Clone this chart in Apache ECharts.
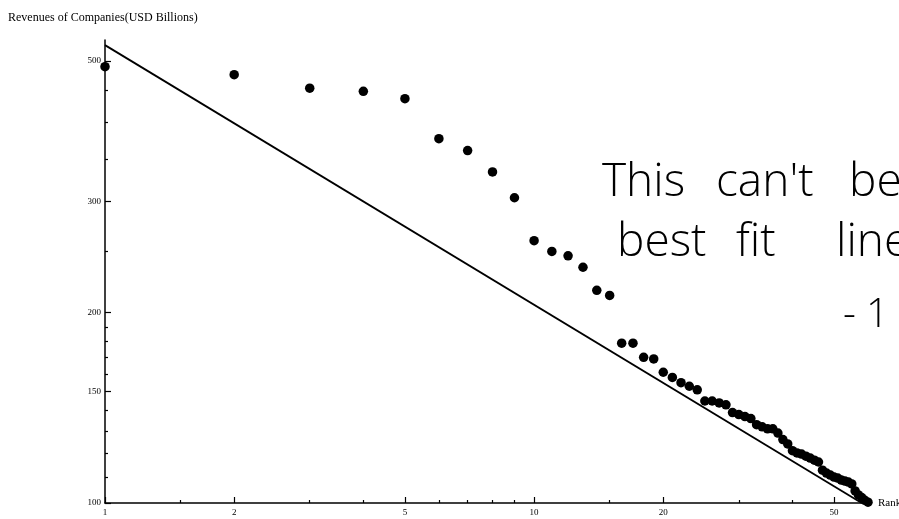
<!DOCTYPE html>
<html>
<head>
<meta charset="utf-8">
<script src="https://cdn.jsdelivr.net/npm/echarts@6.0.0/dist/echarts.min.js"></script>
<style>
  html, body { margin: 0; padding: 0; background: #ffffff; }
  #chart { width: 899px; height: 519px; }
</style>
</head>
<body>
<div id="chart"></div>
<script>
// Company revenues (USD billions) against their rank
const ranks = [
  1, 2, 3, 4, 5, 6, 7, 8, 9, 10,
  11, 12, 13, 14, 15, 16, 17, 18, 19, 20,
  21, 22, 23, 24, 25, 26, 27, 28, 29, 30,
  31, 32, 33, 34, 35, 36, 37, 38, 39, 40,
  41, 42, 43, 44, 45, 46, 47, 48, 49, 50,
  51, 52, 53, 54, 55, 56, 57, 58, 59, 60
];
const revenues = [
  490, 476, 453, 448, 436, 377, 361, 334, 304, 260,
  250, 246, 236, 217, 213, 179, 179, 170, 169, 161,
  158, 155, 153, 151, 145, 145, 144, 143, 139, 138,
  137, 136, 133, 132, 131, 131, 129, 126, 124, 121,
  120, 119.5, 118.6, 117.8, 116.9, 116.1, 112.7, 111.5, 110.7, 109.9,
  109.5, 108.7, 108.3, 107.9, 107.2, 104.5, 103, 102, 101, 100.3
];

// Straight line on the log-log plane, given by its two end points
const fitRanks = [1, 58];
const fitRevenues = [530, 100];

// Tick positions
const xMajorTicks = [1, 2, 5, 10, 20, 50];
const xMinorTicks = [1.5, 3, 4, 6, 7, 8, 9, 15, 30, 40];
const yMajorTicks = [100, 150, 200, 300, 500];
const yMinorTicks = [110, 120, 130, 140, 160, 170, 180, 190, 250, 350, 400, 450];

const serif = '"Liberation Serif", "DejaVu Serif", serif';
const hand = '"Open Sans", "Noto Sans", sans-serif';
const ink = '#000000';

const chart = echarts.init(document.getElementById('chart'), null, { renderer: 'canvas' });

function logAxis(min, max, ticks, major, extra) {
  return Object.assign({
    type: 'log',
    logBase: 10,
    min: min,
    max: max,
    axisLine: { show: major, onZero: false, lineStyle: { color: ink, width: 1.5 } },
    axisTick: {
      show: true,
      inside: true,
      length: major ? 6 : 3,
      customValues: ticks,
      lineStyle: { color: ink, width: 1.2 }
    },
    axisLabel: { show: false },
    splitLine: { show: false },
    minorTick: { show: false },
    minorSplitLine: { show: false }
  }, extra || {});
}

const option = {
  backgroundColor: '#ffffff',
  animation: false,
  title: {
    text: 'Revenues of Companies(USD Billions)',
    left: 3,
    top: 7,
    textStyle: { fontFamily: serif, fontSize: 12, fontWeight: 'normal', color: ink }
  },
  grid: { left: 105, right: 31, top: 40, bottom: 16, containLabel: false, outerBoundsMode: 'none' },
  xAxis: [
    logAxis(1, 60, xMajorTicks, true, {
      position: 'bottom',
      name: 'Rank',
      nameLocation: 'end',
      nameGap: 10,
      nameTextStyle: { fontFamily: serif, fontSize: 11, color: ink },
      axisLabel: {
        show: true, customValues: xMajorTicks, fontFamily: serif,
        fontSize: 9, color: ink, margin: 5
      }
    }),
    logAxis(1, 60, xMinorTicks, false, { position: 'bottom' })
  ],
  yAxis: [
    logAxis(100, 540, yMajorTicks, true, {
      position: 'left',
      axisLabel: {
        show: true, customValues: yMajorTicks, fontFamily: serif,
        fontSize: 9, color: ink, margin: 4
      }
    }),
    logAxis(100, 540, yMinorTicks, false, { position: 'left' })
  ],
  series: [
    {
      type: 'line',
      xAxisIndex: 0,
      yAxisIndex: 0,
      data: fitRanks.map((r, i) => [r, fitRevenues[i]]),
      symbol: 'none',
      lineStyle: { color: ink, width: 1.8 },
      clip: true,
      z: 2
    },
    {
      type: 'scatter',
      xAxisIndex: 0,
      yAxisIndex: 0,
      data: ranks.map((r, i) => [r, revenues[i]]),
      symbol: 'circle',
      symbolSize: 9.5,
      itemStyle: { color: ink, opacity: 1 },
      z: 3
    }
  ],
  graphic: [
    { type: 'text', left: 602, top: 160, style: { text: 'This', font: '300 46px ' + hand, fill: ink } },
    { type: 'text', left: 716, top: 160, style: { text: "can't", font: '300 46px ' + hand, fill: ink } },
    { type: 'text', left: 849, top: 160, style: { text: 'be', font: '300 46px ' + hand, fill: ink } },
    { type: 'text', left: 617, top: 220, style: { text: 'best', font: '300 46px ' + hand, fill: ink } },
    { type: 'text', left: 736, top: 220, style: { text: 'fit', font: '300 46px ' + hand, fill: ink } },
    { type: 'text', left: 836, top: 220, style: { text: 'line', font: '300 46px ' + hand, fill: ink } },
    { type: 'text', left: 843, top: 296, style: { text: '-', font: '300 40px ' + hand, fill: ink } },
    { type: 'text', left: 866, top: 296, style: { text: '1', font: '300 40px ' + hand, fill: ink } }
  ]
};

chart.setOption(option);
</script>
</body>
</html>
